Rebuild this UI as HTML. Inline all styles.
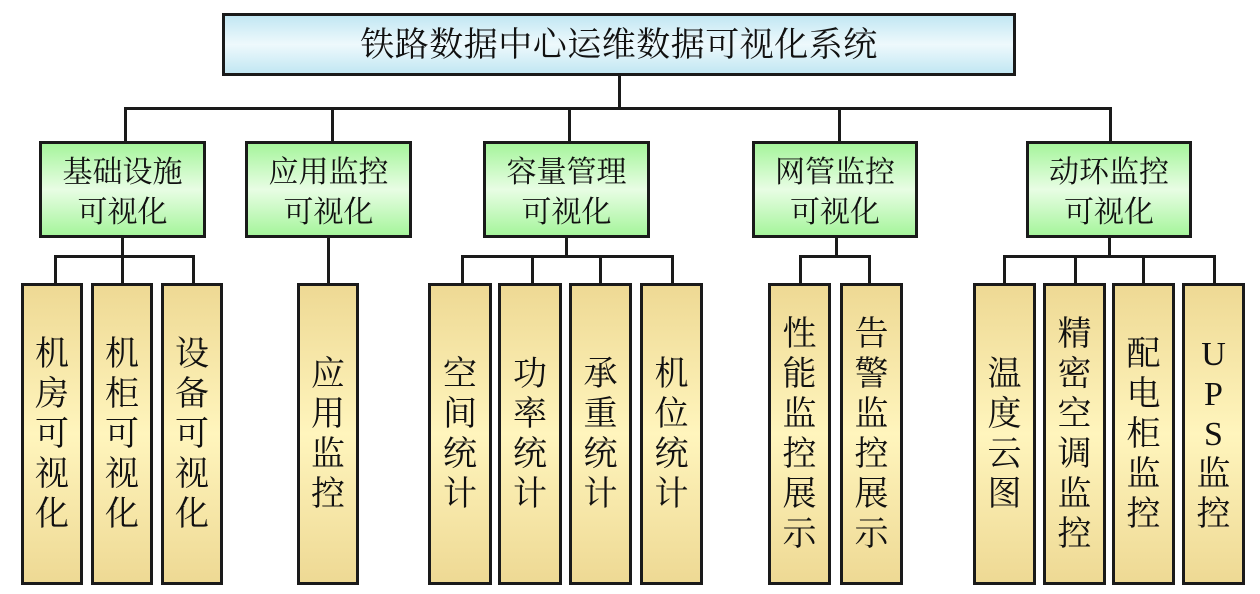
<!DOCTYPE html>
<html>
<head>
<meta charset="utf-8">
<style>
  html,body{margin:0;padding:0;background:#fff;}
  body{width:1260px;height:594px;position:relative;overflow:hidden;
       font-family:"Liberation Serif","Noto Serif CJK SC",serif;color:#111;}
  .b{position:absolute;box-sizing:border-box;border:3px solid #1a1a1a;}
  .title{left:222px;top:13px;width:794px;height:63px;
     background:linear-gradient(to bottom,#c2e7f3 0%,#eef9fc 50%,#c2e7f3 100%);
     font-size:34px;line-height:59px;text-align:center;letter-spacing:0.5px;}
  .g{top:141px;height:97px;width:167px;
     background:linear-gradient(to bottom,#a6f59c 0%,#e8fde4 50%,#a6f59c 100%);
     font-size:30px;line-height:40px;text-align:center;padding-top:9px;}
  .y{top:283px;height:302px;width:63px;
     background:linear-gradient(to bottom,#eed994 0%,#fff5bd 50%,#eed994 100%);
     font-size:34px;line-height:40px;text-align:center;
     display:flex;align-items:center;justify-content:center;padding-top:2px;}
  .y span{display:block;}
  .h{position:absolute;height:3px;background:#1a1a1a;}
  .v{position:absolute;width:3px;background:#1a1a1a;}
</style>
</head>
<body>
<!-- connectors -->
<div class="v" style="left:618px;top:76px;height:33px;"></div>
<div class="h" style="left:124px;top:107px;width:988px;"></div>
<div class="v" style="left:124px;top:107px;height:35px;"></div>
<div class="v" style="left:331px;top:107px;height:35px;"></div>
<div class="v" style="left:568px;top:107px;height:35px;"></div>
<div class="v" style="left:838px;top:107px;height:35px;"></div>
<div class="v" style="left:1109px;top:107px;height:35px;"></div>

<!-- group 1 -->
<div class="v" style="left:121px;top:237px;height:20px;"></div>
<div class="h" style="left:54px;top:255px;width:141px;"></div>
<div class="v" style="left:54px;top:255px;height:29px;"></div>
<div class="v" style="left:121px;top:255px;height:29px;"></div>
<div class="v" style="left:192px;top:255px;height:29px;"></div>
<!-- group 2 -->
<div class="v" style="left:327px;top:237px;height:47px;"></div>
<!-- group 3 -->
<div class="v" style="left:565px;top:237px;height:20px;"></div>
<div class="h" style="left:461px;top:255px;width:213px;"></div>
<div class="v" style="left:461px;top:255px;height:29px;"></div>
<div class="v" style="left:531px;top:255px;height:29px;"></div>
<div class="v" style="left:599px;top:255px;height:29px;"></div>
<div class="v" style="left:671px;top:255px;height:29px;"></div>
<!-- group 4 -->
<div class="v" style="left:835px;top:237px;height:20px;"></div>
<div class="h" style="left:799px;top:255px;width:72px;"></div>
<div class="v" style="left:799px;top:255px;height:29px;"></div>
<div class="v" style="left:868px;top:255px;height:29px;"></div>
<!-- group 5 -->
<div class="v" style="left:1108px;top:237px;height:20px;"></div>
<div class="h" style="left:1003px;top:255px;width:213px;"></div>
<div class="v" style="left:1003px;top:255px;height:29px;"></div>
<div class="v" style="left:1074px;top:255px;height:29px;"></div>
<div class="v" style="left:1142px;top:255px;height:29px;"></div>
<div class="v" style="left:1213px;top:255px;height:29px;"></div>

<!-- title -->
<div class="b title">铁路数据中心运维数据可视化系统</div>

<!-- level 2 -->
<div class="b g" style="left:39px;">基础设施<br>可视化</div>
<div class="b g" style="left:245px;">应用监控<br>可视化</div>
<div class="b g" style="left:483px;">容量管理<br>可视化</div>
<div class="b g" style="left:752px;width:166px;">网管监控<br>可视化</div>
<div class="b g" style="left:1026px;width:166px;">动环监控<br>可视化</div>

<!-- level 3 -->
<div class="b y" style="left:21px;width:62px;"><span>机<br>房<br>可<br>视<br>化</span></div>
<div class="b y" style="left:91px;width:62px;"><span>机<br>柜<br>可<br>视<br>化</span></div>
<div class="b y" style="left:161px;width:62px;"><span>设<br>备<br>可<br>视<br>化</span></div>

<div class="b y" style="left:297px;width:62px;"><span>应<br>用<br>监<br>控</span></div>

<div class="b y" style="left:428px;width:64px;"><span>空<br>间<br>统<br>计</span></div>
<div class="b y" style="left:498px;width:64px;"><span>功<br>率<br>统<br>计</span></div>
<div class="b y" style="left:569px;width:63px;"><span>承<br>重<br>统<br>计</span></div>
<div class="b y" style="left:640px;width:63px;"><span>机<br>位<br>统<br>计</span></div>

<div class="b y" style="left:768px;width:63px;"><span>性<br>能<br>监<br>控<br>展<br>示</span></div>
<div class="b y" style="left:840px;width:63px;"><span>告<br>警<br>监<br>控<br>展<br>示</span></div>

<div class="b y" style="left:973px;width:63px;"><span>温<br>度<br>云<br>图</span></div>
<div class="b y" style="left:1043px;width:63px;"><span>精<br>密<br>空<br>调<br>监<br>控</span></div>
<div class="b y" style="left:1112px;width:63px;"><span>配<br>电<br>柜<br>监<br>控</span></div>
<div class="b y" style="left:1182px;width:63px;"><span>U<br>P<br>S<br>监<br>控</span></div>
</body>
</html>
